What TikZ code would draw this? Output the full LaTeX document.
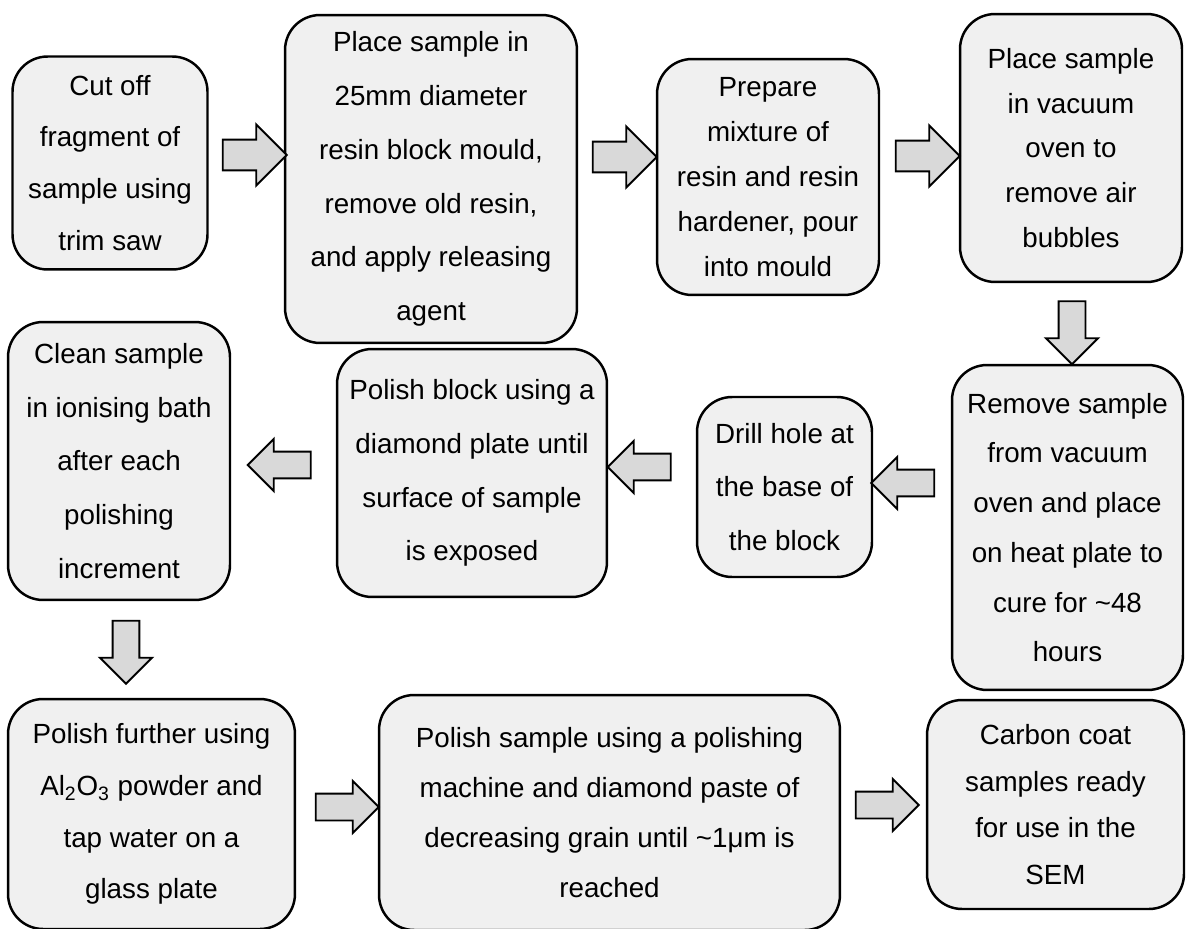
\documentclass[tikz,border=0pt]{standalone}
\usepackage{fontspec}
\setmainfont{Liberation Sans}
\usetikzlibrary{shapes.arrows}

\begin{document}
\begin{tikzpicture}[x=0.02cm, y=-0.02cm,
	box/.style={draw, line width=1.4pt, rounded corners=0.7cm, fill=black!6,
		align=center, inner sep=0pt, font=\fontsize{15.8}{30.6}\selectfont},
	lines/.style={font=\fontsize{15.8}{#1}\selectfont},
	barr/.style={single arrow, draw, line width=1.1pt, fill=black!15,
		inner xsep=0pt, inner ysep=0.25cm, minimum height=1.26cm,
		single arrow head extend=0.25cm},
	bigarr/.style={barr, inner ysep=0.29cm, minimum height=1.28cm,
		single arrow head extend=0.3cm},
	downarr/.style={barr, shape border rotate=270, inner xsep=0.25cm, inner ysep=0pt}
]
	\useasboundingbox (0,0) rectangle (1194,929);

	% Top row
	\node[box, lines=29.5pt, minimum width=3.9cm, minimum height=4.26cm] (cut) at (110,163)
		{Cut off\\fragment of\\sample using\\trim saw};
	\node[box, minimum width=5.84cm, minimum height=6.56cm] (mould) at (431,179)
		{Place sample in\\25mm diameter\\resin block mould,\\remove old resin,\\and apply releasing\\agent};
	\node[box, lines=25.5pt, minimum width=4.44cm, minimum height=4.72cm] (mix) at (768,177)
		{Prepare\\mixture of\\resin and resin\\hardener, pour\\into mould};
	\node[box, lines=25.5pt, minimum width=4.44cm, minimum height=5.36cm] (vac) at (1071,148)
		{Place sample\\in vacuum\\oven to\\remove air\\bubbles};

	\node[bigarr] (a1) at (247,155) {};
	\node[bigarr] (a2) at (617,157) {};
	\node[bigarr] (a3) at (920,156) {};
	\node[downarr] (a4) at (1072,326) {};

	% Middle row
	\node[box, lines=28.3pt, minimum width=4.62cm, minimum height=6.5cm] (cure) at (1067.5,527.5)
		{Remove sample\\from vacuum\\oven and place\\on heat plate to\\cure for \textasciitilde48\\hours};
	\node[box, minimum width=3.5cm, minimum height=3.6cm] (drill) at (784.5,487)
		{Drill hole at\\the base of\\the block};
	\node[box, minimum width=5.4cm, minimum height=4.96cm] (plate) at (472,473)
		{Polish block using a\\diamond plate until\\surface of sample\\is exposed};
	\node[box, minimum width=4.44cm, minimum height=5.56cm] (clean) at (119,461)
		{Clean sample\\in ionising bath\\after each\\polishing\\increment};

	\node[barr, shape border rotate=180] (a5) at (909.5,483) {};
	\node[barr, shape border rotate=180] (a6) at (646,467) {};
	\node[barr, shape border rotate=180] (a7) at (286,465) {};
	\node[downarr] (a8) at (126,645.5) {};

	% Bottom row
	\node[box, lines=29.5pt, minimum width=5.74cm, minimum height=4.6cm] (powder) at (151.5,814)
		{Polish further using\\Al\textsubscript{2}O\textsubscript{3} powder and\\tap water on a\\glass plate};
	\node[box, lines=28.3pt, minimum width=9.22cm, minimum height=4.7cm] (paste) at (609.5,812.5)
		{Polish sample using a polishing\\machine and diamond paste of\\decreasing grain until \textasciitilde1μm is\\reached};
	\node[box, lines=26.6pt, minimum width=5.14cm, minimum height=4.18cm] (coat) at (1055.5,804.5)
		{Carbon coat\\samples ready\\for use in the\\SEM};

	\node[barr] (a9) at (340.5,807) {};
	\node[barr] (a10) at (880.5,805) {};
\end{tikzpicture}
\end{document}
